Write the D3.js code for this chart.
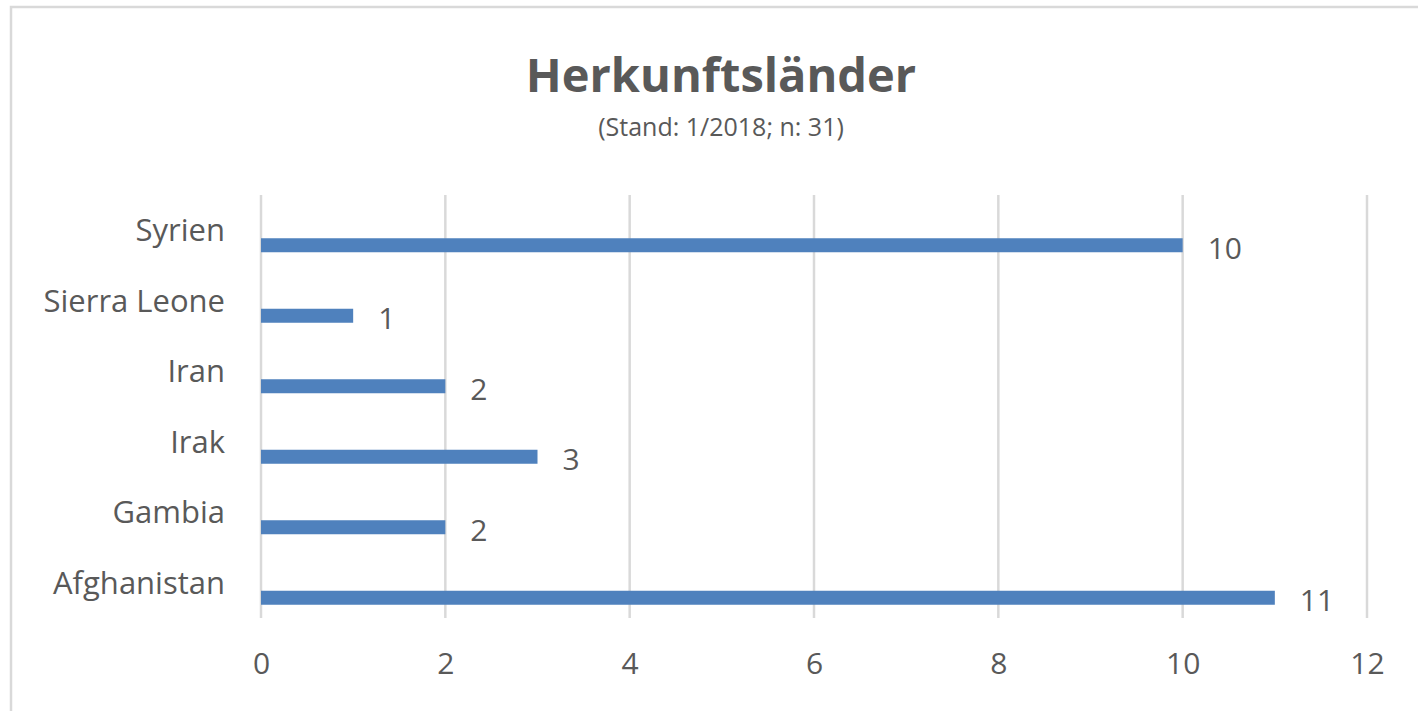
<!DOCTYPE html>
<html lang="de">
<head>
<meta charset="utf-8">
<title>Herkunftsländer</title>
<style>
  body { margin: 0; background: #fff; font-family: "Open Sans", sans-serif; }
  svg { display: block; }
</style>
</head>
<body>
<svg></svg>
<script src="https://cdnjs.cloudflare.com/ajax/libs/d3/7.8.5/d3.min.js"></script>
<script>
// data, top to bottom as drawn
var countries = ["Syrien", "Sierra Leone", "Iran", "Irak", "Gambia", "Afghanistan"];
var counts = [10, 1, 2, 3, 2, 11];
var xTicks = [0, 2, 4, 6, 8, 10, 12];
var title = "Herkunftsländer";
var subtitle = "(Stand: 1/2018; n: 31)";

var width = 1418, height = 711;
var textColor = "#595959";
var font = "'Open Sans', sans-serif";

var svg = d3.select("svg")
  .attr("width", width)
  .attr("height", height);

// chart frame
svg.append("rect")
  .attr("x", 11).attr("y", 7)
  .attr("width", width + 20).attr("height", height + 20)
  .attr("fill", "none")
  .attr("stroke", "#d9d9d9")
  .attr("stroke-width", 2.5);

var plot = { left: 261, right: 1367, top: 195, bottom: 618 };

var x = d3.scaleLinear()
  .domain([0, 12])
  .range([plot.left, plot.right]);

var y = d3.scaleBand()
  .domain(countries)
  .range([plot.top, plot.bottom]);

// gridlines
svg.append("g")
  .selectAll("line")
  .data(xTicks)
  .enter().append("line")
  .attr("x1", function(d) { return x(d); })
  .attr("x2", function(d) { return x(d); })
  .attr("y1", plot.top)
  .attr("y2", plot.bottom)
  .attr("stroke", "#d9d9d9")
  .attr("stroke-width", 2.5);

// bars sit a bit below the band centre
var barOffset = 15, barH = 14;
svg.append("g")
  .selectAll("rect")
  .data(countries)
  .enter().append("rect")
  .attr("x", x(0))
  .attr("y", function(d) { return y(d) + y.bandwidth() / 2 + barOffset - barH / 2; })
  .attr("width", function(d, i) { return x(counts[i]) - x(0); })
  .attr("height", barH)
  .attr("fill", "#4f81bd");

// value labels
svg.append("g")
  .selectAll("text")
  .data(countries)
  .enter().append("text")
  .attr("x", function(d, i) { return x(counts[i]) + 25; })
  .attr("y", function(d) { return y(d) + y.bandwidth() / 2 + barOffset + 3; })
  .attr("dy", "0.35em")
  .attr("fill", textColor)
  .style("font-size", "30px")
  .text(function(d, i) { return counts[i]; });

// category labels
svg.append("g")
  .selectAll("text")
  .data(countries)
  .enter().append("text")
  .attr("x", 225)
  .attr("y", function(d) { return y(d) + y.bandwidth() / 2; })
  .attr("dy", "0.35em")
  .attr("text-anchor", "end")
  .attr("fill", textColor)
  .style("font-size", "31px")
  .text(function(d) { return d; });

// x axis labels
var xAxis = svg.append("g")
  .attr("transform", "translate(0," + (plot.bottom + 35) + ")")
  .call(d3.axisBottom(x).tickValues(xTicks).tickSize(0).tickPadding(0));
xAxis.select(".domain").remove();
xAxis.selectAll("text")
  .attr("fill", textColor)
  .style("font-family", font)
  .style("font-size", "30px");

// titles
svg.append("text")
  .attr("x", 721).attr("y", 92)
  .attr("text-anchor", "middle")
  .attr("fill", textColor)
  .style("font-size", "47px")
  .style("font-weight", "bold")
  .text(title);

svg.append("text")
  .attr("x", 721).attr("y", 136)
  .attr("text-anchor", "middle")
  .attr("fill", textColor)
  .style("font-size", "25px")
  .text(subtitle);
</script>
</body>
</html>
